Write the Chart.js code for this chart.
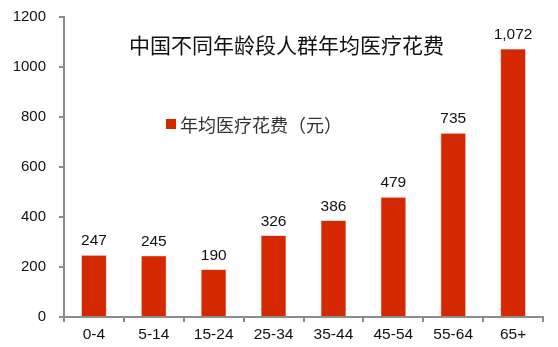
<!DOCTYPE html>
<html><head><meta charset="utf-8">
<script src="https://cdn.jsdelivr.net/npm/chart.js@4"></script>
<style>html,body{margin:0;padding:0;background:#fff}#wrap{width:558px;height:347px}</style>
</head><body><div id="wrap"><canvas id="c" width="558" height="347"></canvas></div>
<script>
const categories = ['0-4','5-14','15-24','25-34','35-44','45-54','55-64','65+'];
const values = [247,245,190,326,386,479,735,1072];
const valueLabels = ['247','245','190','326','386','479','735','1,072'];
const yTicks = [0,200,400,600,800,1000,1200];
const titleText = '中国不同年龄段人群年均医疗花费';
const seriesName = '年均医疗花费（元）';

const AXIS = '#8c8c8c';
const FONT = '"Liberation Sans", Arial, sans-serif';
const overlay = {
  id:'overlay',
  afterDatasetsDraw(chart){
    const ctx = chart.ctx;
    const meta = chart.getDatasetMeta(0);
    ctx.save();
    ctx.fillStyle = '#111';
    ctx.font = '15.5px ' + FONT;
    ctx.textAlign = 'center';
    ctx.textBaseline = 'alphabetic';
    meta.data.forEach((el,i)=>{
      ctx.fillText(valueLabels[i], el.x, el.y - 10);
    });
    // title
    ctx.font = '21px "Noto Sans CJK SC", sans-serif';
    ctx.fillStyle = '#111';
    ctx.textAlign = 'left';
    ctx.textBaseline = 'middle';
    ctx.fillText(titleText, 129, 45);
    // legend
    ctx.fillStyle = '#D42800';
    ctx.fillRect(166, 119, 10, 10);
    ctx.fillStyle = '#333';
    ctx.font = '18px "Noto Sans CJK SC", sans-serif';
    ctx.fillText(seriesName, 180, 125);
    ctx.restore();
  }
};

new Chart(document.getElementById('c'), {
  type:'bar',
  data:{labels:categories, datasets:[{label:seriesName, data:values, backgroundColor:'#D42800', borderColor:'#E06A50', borderWidth:0.6, barPercentage:0.42, categoryPercentage:1}]},
  options:{
    responsive:false, animation:false,
    layout:{padding:{top:17,right:15,left:0,bottom:0}},
    plugins:{legend:{display:false}, title:{display:false}, tooltip:{enabled:false}},
    scales:{
      x:{
        grid:{display:true, drawOnChartArea:false, offset:true, color:AXIS, tickLength:5, lineWidth:2},
        border:{color:AXIS, width:2},
        ticks:{color:'#111', font:{size:15.5, family:FONT}, padding:3},
        afterFit(s){ s.height = 30; s.paddingLeft = 0; s.paddingRight = 0; }
      },
      y:{
        min:0, max:1200,
        afterBuildTicks(s){ s.ticks = yTicks.map(v=>({value:v})); },
        grid:{display:true, drawOnChartArea:false, color:AXIS, tickLength:5, lineWidth:2},
        border:{color:AXIS, width:2},
        ticks:{color:'#111', font:{size:15, family:FONT}, padding:13, callback:(v)=>String(v)},
        afterFit(s){ s.width = 64; s.paddingTop = 0; s.paddingBottom = 0; }
      }
    }
  },
  plugins:[overlay]
});
</script></body></html>
